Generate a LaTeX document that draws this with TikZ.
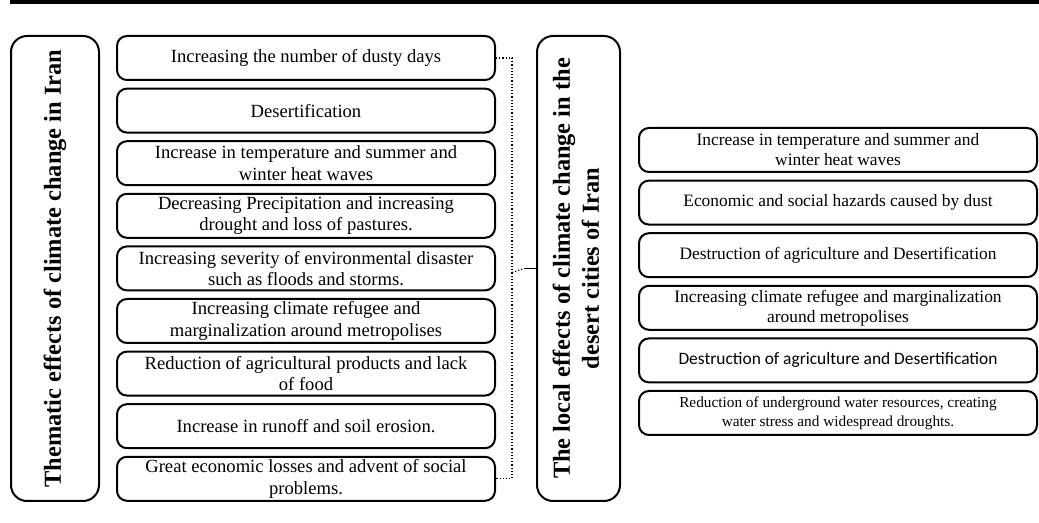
\documentclass[tikz,border=0pt]{standalone}
\usepackage{fontspec}
\setmainfont{Liberation Serif}
\newfontfamily\calibrifont{Carlito}
\usetikzlibrary{positioning,calc}

\tikzset{
  effectbox/.style={
    draw,
    line width=1pt,
    rounded corners=5pt,
    minimum width=189pt,
    minimum height=22pt,
    inner sep=1pt,
    align=center,
    font=\fontsize{9.3}{10.7}\selectfont
    },
  localbox/.style={
    effectbox,
    minimum width=199pt,
    font=\fontsize{8.7}{10}\selectfont
    },
  titlebox/.style={
    draw,
    line width=1pt,
    rounded corners=8pt,
    minimum height=232.5pt,
    inner sep=0pt,
    font=\fontsize{12.2}{14.5}\selectfont\bfseries
    }
}

\begin{document}
\begin{tikzpicture}[node distance=3.3pt]
\useasboundingbox (0,0) rectangle (519.5pt,-261.5pt);

% rule on top
\draw[line width=2pt] (5pt,-1pt) -- (519.5pt,-1pt);

% titles
\node[titlebox, minimum width=44pt] (thematic) at (27.5pt,-134.25pt)
  {\rotatebox{90}{Thematic effects of climate change in Iran}};
\node[titlebox, minimum width=41.5pt] (local) at (289.25pt,-134.25pt)
  {\rotatebox{90}{\begin{tabular}{@{}c@{}}The local effects of climate change in the\\desert cities of Iran\end{tabular}}};

% thematic effects
\node[effectbox] (item1) at (153pt,-29pt) {Increasing the number of dusty days};
\node[effectbox, below=of item1] (item2) {Desertification};
\node[effectbox, below=of item2] (item3) {Increase in temperature and summer and\\winter heat waves};
\node[effectbox, below=of item3] (item4) {Decreasing Precipitation and increasing\\drought and loss of pastures.};
\node[effectbox, below=of item4] (item5) {Increasing severity of environmental disaster\\such as floods and storms.};
\node[effectbox, below=of item5] (item6) {Increasing climate refugee and\\marginalization around metropolises};
\node[effectbox, below=of item6] (item7) {Reduction of agricultural products and lack\\of food};
\node[effectbox, below=of item7] (item8) {Increase in runoff and soil erosion.};
\node[effectbox, below=of item8] (item9) {Great economic losses and advent of social\\problems.};

% local effects
\node[localbox] (loc1) at (419pt,-75pt) {Increase in temperature and summer and\\winter heat waves};
\node[localbox, below=of loc1] (loc2) {Economic and social hazards caused by dust};
\node[localbox, below=of loc2] (loc3) {Destruction of agriculture and Desertification};
\node[localbox, below=of loc3] (loc4) {Increasing climate refugee and marginalization\\around metropolises};
\node[localbox, below=of loc4, font=\fontsize{8.7}{10}\calibrifont] (loc5) {Destruction of agriculture and Desertification};
\node[localbox, below=of loc5, font=\fontsize{7.65}{9.5}\selectfont] (loc6) {Reduction of underground water resources, creating\\water stress and widespread droughts.};

% bracket
\coordinate (bt) at ([xshift=8pt]item1.east);
\coordinate (bb) at ([xshift=8pt]item9.east);
\coordinate (bm) at (bt |- local.west);
\coordinate (bk) at ([xshift=-6pt]local.west);
\draw[densely dotted, line width=0.6pt] (item1.east) -- (bt) -- (bb) -- (item9.east);
\draw[densely dotted, line width=0.6pt] ([yshift=-2pt]bm) -- (bk);
\draw[line width=0.8pt] (bk) -- (local.west);

\end{tikzpicture}
\end{document}
